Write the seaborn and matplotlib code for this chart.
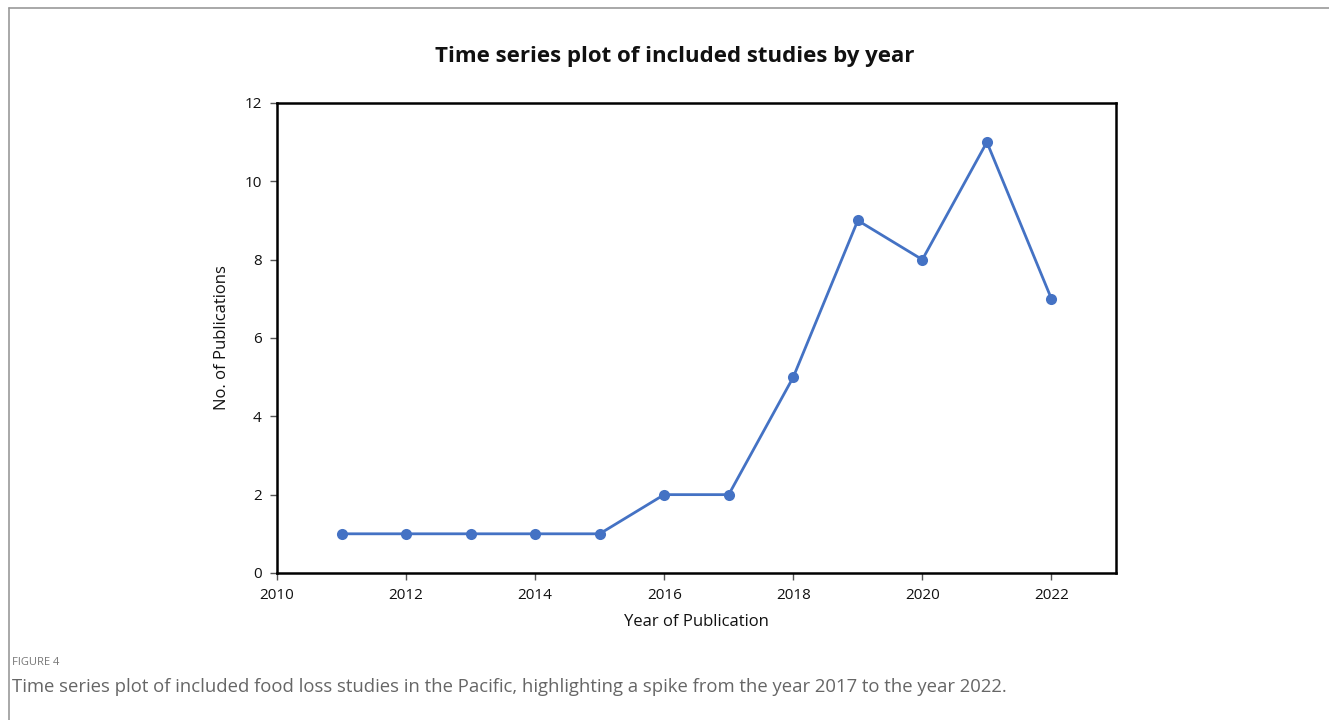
import matplotlib
matplotlib.use("Agg")
import matplotlib.pyplot as plt
from matplotlib.lines import Line2D
import seaborn as sns
import pandas as pd

years = [2011, 2012, 2013, 2014, 2015, 2016, 2017, 2018, 2019, 2020, 2021, 2022]
publications = [1, 1, 1, 1, 1, 2, 2, 5, 9, 8, 11, 7]
x_ticks = [2010, 2012, 2014, 2016, 2018, 2020, 2022]
y_ticks = [0, 2, 4, 6, 8, 10, 12]

title = "Time series plot of included studies by year"
x_label = "Year of Publication"
y_label = "No. of Publications"
fig_label = "FIGURE 4"
caption = ("Time series plot of included food loss studies in the Pacific, "
           "highlighting a spike from the year 2017 to the year 2022.")

sns.set_theme(style="white")
plt.rcParams["font.family"] = ["Open Sans", "DejaVu Sans"]

df = pd.DataFrame({"year": years, "count": publications})

fig = plt.figure(figsize=(13.29, 7.2), dpi=100)
ax = fig.add_axes([0.2084, 0.2042, 0.6313, 0.6528])

sns.lineplot(data=df, x="year", y="count", ax=ax, color="#4472C4",
             linewidth=2, marker="o", markersize=8, markeredgewidth=0)

ax.set_xlim(2010, 2023)
ax.set_ylim(0, 12)
ax.set_xticks(x_ticks)
ax.set_yticks(y_ticks)
ax.tick_params(axis="both", direction="out", length=5, width=1, color="#555555",
               labelsize=11, labelcolor="#111111", pad=6, bottom=True, left=True)
for s in ax.spines.values():
    s.set_visible(True)
    s.set_color("black")
    s.set_linewidth(1.8)

ax.set_xlabel(x_label, fontsize=12, color="#111111", labelpad=8)
ax.set_ylabel(y_label, fontsize=12, color="#111111", labelpad=10)

fig.text(0.508, 0.922, title, ha="center", va="center",
         fontsize=16, fontweight="bold", color="#111111")

fig.text(0.009, 0.080, fig_label, ha="left", va="center",
         fontsize=8, color="#777777")
fig.text(0.009, 0.046, caption, ha="left", va="center",
         fontsize=13.3, color="#666666")

# partial page frame along the top and left edges
fig.add_artist(Line2D([0.0068, 1.0], [0.989, 0.989], transform=fig.transFigure,
                      color="#999999", linewidth=1.2))
fig.add_artist(Line2D([0.0068, 0.0068], [0.0, 0.989], transform=fig.transFigure,
                      color="#999999", linewidth=1.2))

fig.savefig("out.png", dpi=100, facecolor="white")
